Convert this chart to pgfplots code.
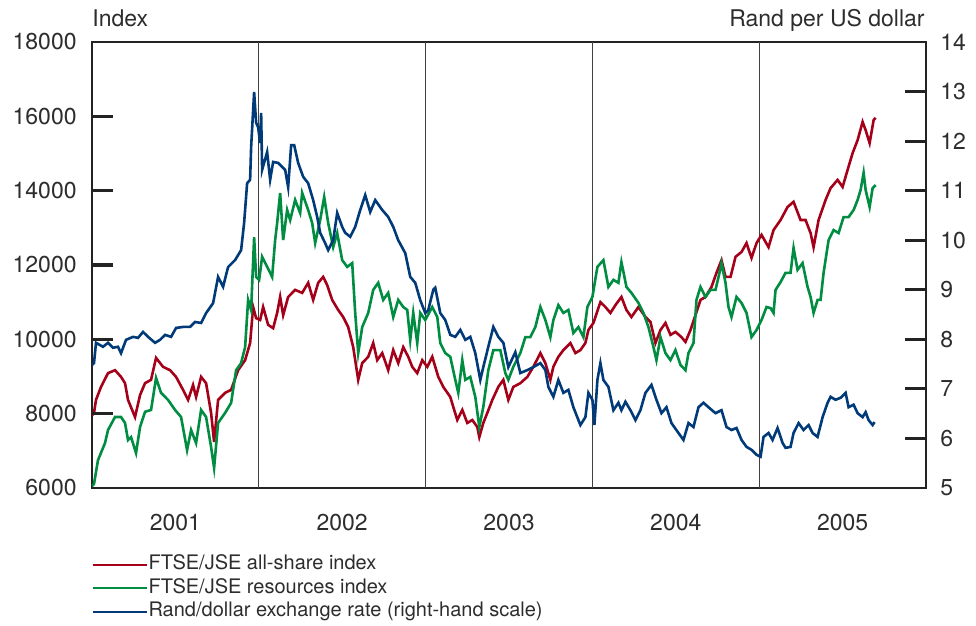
\documentclass[border=0pt]{standalone}
\usepackage{fontspec}
\setmainfont{TeX Gyre Heros}
\usepackage{pgfplots}
\pgfplotsset{compat=1.18}
\usetikzlibrary{calc}

\definecolor{allshare}{RGB}{165,0,25}
\definecolor{resources}{RGB}{0,140,65}
\definecolor{rand}{RGB}{0,58,120}
\definecolor{txt}{RGB}{45,45,45}
\definecolor{axframe}{RGB}{35,35,35}

\pgfplotsset{
  common/.style={
    scale only axis, width=417pt, height=223pt,
    xmin=2001, xmax=2006,
    tick align=inside,
    axis line style={line width=1.3pt, color=axframe},
    every tick/.append style={draw=axframe, line width=1.3pt},
    major tick length=10pt,
    tick label style={font=\fontsize{11.5}{13}\selectfont, text=txt},
    /pgf/number format/assume math mode=true,
    /pgf/number format/1000 sep={},
    scaled y ticks=false,
  },
}

\begin{document}
\begin{tikzpicture}
\begin{axis}[common, name=main,
  ymin=6000, ymax=18000,
  ytick={6000,8000,...,18000}, ytick pos=left,
  yticklabel style={anchor=east, inner sep=0pt, xshift=-7.5pt},
  xtick={2001.5,2002.5,2003.5,2004.5,2005.5},
  xticklabels={2001,2002,2003,2004,2005},
  xtick style={draw=none},
  xticklabel style={anchor=base, inner sep=0pt, yshift=-21.5pt},
  extra x ticks={2002,2003,2004,2005},
  extra x tick labels={},
  extra x tick style={grid=major, major grid style={black!75, line width=0.6pt}},
]
% FTSE/JSE all-share index
\addplot[allshare, line width=1.3pt] coordinates {
(2001.000,7950)(2001.012,8020)(2001.024,8370)(2001.054,8720)(2001.096,9090)(2001.138,9170)(2001.174,8990)(2001.198,8820)
(2001.216,8370)(2001.258,7910)(2001.288,8500)(2001.318,8820)(2001.354,8910)(2001.384,9500)(2001.426,9260)(2001.468,9170)
(2001.504,8990)(2001.546,8640)(2001.576,8370)(2001.606,8770)(2001.624,8450)(2001.654,8990)(2001.684,8820)(2001.714,8020)
(2001.732,7240)(2001.756,8370)(2001.798,8560)(2001.834,8640)(2001.876,9170)(2001.918,9440)(2001.948,9900)(2001.966,10870)
(2001.984,10570)(2002.008,10520)(2002.026,10870)(2002.056,10390)(2002.086,10300)(2002.110,10710)(2002.128,11140)(2002.146,10650)
(2002.176,11140)(2002.218,11330)(2002.260,11250)(2002.296,11520)(2002.326,11060)(2002.356,11520)(2002.386,11680)(2002.410,11460)
(2002.440,11060)(2002.476,10790)(2002.506,10600)(2002.536,10330)(2002.566,9790)(2002.578,9440)(2002.596,8910)(2002.620,9360)
(2002.656,9530)(2002.686,9900)(2002.710,9440)(2002.740,9630)(2002.776,9170)(2002.806,9710)(2002.836,9360)(2002.866,9790)
(2002.896,9530)(2002.920,9260)(2002.950,9090)(2002.980,9440)(2003.010,9260)(2003.040,9530)(2003.076,8990)(2003.106,8720)
(2003.148,8450)(2003.166,8180)(2003.190,7830)(2003.220,8100)(2003.250,7750)(2003.280,7830)(2003.310,7640)(2003.322,7370)
(2003.346,7750)(2003.370,8020)(2003.400,8370)(2003.436,8720)(2003.466,8910)(2003.496,8370)(2003.526,8720)(2003.568,8820)
(2003.610,8990)(2003.646,9260)(2003.688,9630)(2003.718,9360)(2003.748,8910)(2003.766,9260)(2003.796,9530)(2003.826,9710)
(2003.868,9900)(2003.898,9630)(2003.928,9710)(2003.958,9900)(2003.976,10250)(2004.006,10440)(2004.048,11000)(2004.078,10870)
(2004.108,10710)(2004.138,10920)(2004.174,11140)(2004.204,10790)(2004.234,10600)(2004.276,10870)(2004.318,10600)(2004.348,10470)
(2004.378,9900)(2004.408,10250)(2004.438,10440)(2004.468,10120)(2004.498,10200)(2004.534,10060)(2004.558,9930)(2004.588,10250)
(2004.648,11060)(2004.678,11140)(2004.714,11410)(2004.744,11790)(2004.774,12130)(2004.798,11680)(2004.828,11680)(2004.858,12220)
(2004.894,12350)(2004.924,12590)(2004.954,12190)(2004.984,12590)(2005.014,12810)(2005.056,12480)(2005.086,12940)(2005.128,13210)
(2005.170,13560)(2005.206,13700)(2005.248,13210)(2005.278,13210)(2005.308,12860)(2005.326,12480)(2005.356,13210)(2005.398,13750)
(2005.428,14070)(2005.470,14290)(2005.500,14100)(2005.530,14560)(2005.560,15010)(2005.590,15360)(2005.620,15850)(2005.638,15630)
(2005.662,15280)(2005.686,15900)(2005.698,15960)
};
% FTSE/JSE resources index
\addplot[resources, line width=1.3pt] coordinates {
(2001.000,6050)(2001.012,6110)(2001.036,6750)(2001.078,7210)(2001.096,7560)(2001.138,7910)(2001.174,7910)(2001.198,7750)
(2001.216,7290)(2001.234,7370)(2001.264,6940)(2001.288,7640)(2001.318,8050)(2001.354,8100)(2001.384,8960)(2001.414,8560)
(2001.456,8370)(2001.498,8100)(2001.534,7910)(2001.570,7020)(2001.594,7560)(2001.624,7210)(2001.654,8100)(2001.684,7910)
(2001.714,7100)(2001.732,6540)(2001.756,7750)(2001.798,8020)(2001.834,8290)(2001.864,9170)(2001.894,9360)(2001.918,9790)
(2001.936,11060)(2001.954,10790)(2001.972,12750)(2001.984,11680)(2002.002,11600)(2002.020,12220)(2002.050,11950)(2002.080,11680)
(2002.098,12670)(2002.110,13130)(2002.128,13940)(2002.146,12670)(2002.170,13480)(2002.188,13210)(2002.218,13750)(2002.248,13400)
(2002.260,13940)(2002.296,13480)(2002.320,13130)(2002.338,12590)(2002.368,13210)(2002.392,13830)(2002.416,13130)(2002.446,12480)
(2002.470,12860)(2002.500,12130)(2002.530,11950)(2002.560,12050)(2002.578,10710)(2002.596,9630)(2002.620,10330)(2002.656,10710)
(2002.686,11330)(2002.716,11520)(2002.746,11060)(2002.776,11250)(2002.806,10600)(2002.836,11060)(2002.866,10870)(2002.890,10790)
(2002.908,9980)(2002.926,10710)(2002.950,9900)(2002.968,10710)(2002.998,10520)(2003.040,10870)(2003.070,10600)(2003.088,9900)
(2003.118,9630)(2003.148,9530)(2003.178,8910)(2003.196,8560)(2003.220,9440)(2003.238,8910)(2003.268,8990)(2003.298,8450)
(2003.322,7640)(2003.346,8180)(2003.376,9170)(2003.406,9710)(2003.448,9710)(2003.478,9090)(2003.496,8910)(2003.526,9260)
(2003.568,9630)(2003.598,10060)(2003.628,10060)(2003.658,10330)(2003.688,10870)(2003.718,10520)(2003.748,10060)(2003.766,10520)
(2003.796,10920)(2003.826,10710)(2003.856,10790)(2003.886,10170)(2003.916,10330)(2003.946,10060)(2003.970,10870)(2004.000,11140)
(2004.030,11950)(2004.066,12130)(2004.096,11410)(2004.126,11600)(2004.156,11520)(2004.174,12080)(2004.204,11410)(2004.234,11250)
(2004.276,10980)(2004.306,10710)(2004.336,10330)(2004.366,9790)(2004.384,9440)(2004.408,10060)(2004.438,9630)(2004.468,9440)
(2004.498,9710)(2004.528,9310)(2004.558,9170)(2004.576,9630)(2004.606,9900)(2004.624,11060)(2004.648,11410)(2004.678,11140)
(2004.708,11330)(2004.738,11330)(2004.762,11790)(2004.774,12050)(2004.798,11520)(2004.816,10870)(2004.834,10600)(2004.864,11140)
(2004.894,10980)(2004.924,10710)(2004.954,10060)(2004.984,10250)(2005.014,10520)(2005.044,10870)(2005.068,10840)(2005.086,10710)
(2005.098,11330)(2005.128,11540)(2005.158,11790)(2005.188,11790)(2005.206,12460)(2005.230,11870)(2005.260,12050)(2005.290,11410)
(2005.308,11140)(2005.326,10710)(2005.350,11060)(2005.368,11060)(2005.386,11790)(2005.416,12670)(2005.446,12940)(2005.476,12860)
(2005.506,13290)(2005.536,13290)(2005.566,13480)(2005.590,13750)(2005.608,14020)(2005.626,14480)(2005.638,14020)(2005.662,13560)
(2005.680,14070)(2005.698,14150)
};
\coordinate (bl) at (rel axis cs:0,0);
\coordinate (tr) at (rel axis cs:1,1);
\end{axis}

\begin{axis}[common,
  ymin=5, ymax=14,
  ytick={5,6,...,14},
  axis y line*=right, axis x line=none,
  yticklabel style={anchor=west, inner sep=0pt, xshift=7pt},
  legend style={at={(0,0)}, anchor=north west, yshift=-33pt,
    draw=none, fill=none, inner sep=0pt, outer sep=0pt,
    font=\fontsize{10}{12}\selectfont, text=txt,
    nodes={inner sep=0pt, text height=8pt, text depth=3pt},
    row sep=0.75pt},
  legend cell align=left,
  legend image code/.code={\draw[#1] (0pt,0pt) -- (18pt,0pt); \path (0pt,0pt) -- (27pt,0pt);},
]
\addlegendimage{allshare, line width=1pt}
\addlegendentry{FTSE/JSE all-share index}
\addlegendimage{resources, line width=1pt}
\addlegendentry{FTSE/JSE resources index}
% Rand/dollar exchange rate (right-hand scale)
\addplot[rand, line width=1.3pt] coordinates {
(2001.000,7.48)(2001.012,7.52)(2001.024,7.93)(2001.066,7.85)(2001.096,7.93)(2001.126,7.83)(2001.156,7.85)(2001.174,7.72)
(2001.204,7.99)(2001.246,8.05)(2001.276,8.03)(2001.306,8.15)(2001.336,8.05)(2001.378,7.93)(2001.408,7.99)(2001.438,8.09)
(2001.474,8.05)(2001.504,8.23)(2001.546,8.25)(2001.588,8.25)(2001.618,8.35)(2001.654,8.33)(2001.684,8.53)(2001.726,8.73)
(2001.756,9.26)(2001.786,9.06)(2001.816,9.46)(2001.858,9.60)(2001.894,9.80)(2001.912,10.35)(2001.930,11.15)(2001.948,11.22)
(2001.954,11.88)(2001.972,12.99)(2001.984,12.37)(2001.996,12.28)(2002.008,11.96)(2002.014,12.57)(2002.020,11.42)(2002.050,11.78)
(2002.068,11.22)(2002.086,11.58)(2002.116,11.56)(2002.158,11.42)(2002.176,11.07)(2002.194,11.92)(2002.212,11.92)(2002.236,11.56)
(2002.266,11.28)(2002.296,11.15)(2002.326,10.81)(2002.350,10.47)(2002.368,10.15)(2002.398,9.94)(2002.416,9.80)(2002.446,10.00)
(2002.470,10.55)(2002.500,10.27)(2002.518,10.15)(2002.548,10.07)(2002.578,10.27)(2002.608,10.61)(2002.638,10.91)(2002.668,10.57)
(2002.698,10.81)(2002.740,10.61)(2002.776,10.47)(2002.806,10.27)(2002.836,10.00)(2002.878,9.74)(2002.908,9.26)(2002.938,9.14)
(2002.968,8.79)(2002.998,8.53)(2003.016,8.59)(2003.046,9.00)(2003.058,9.04)(2003.088,8.53)(2003.118,8.39)(2003.148,8.09)
(2003.178,8.05)(2003.208,8.19)(2003.238,7.99)(2003.268,8.05)(2003.298,7.72)(2003.328,7.18)(2003.346,7.44)(2003.376,7.85)
(2003.406,8.25)(2003.436,8.05)(2003.466,7.93)(2003.496,7.44)(2003.538,7.74)(2003.568,7.32)(2003.610,7.38)(2003.646,7.44)
(2003.688,7.52)(2003.718,7.38)(2003.736,7.04)(2003.766,6.84)(2003.796,7.18)(2003.826,6.92)(2003.856,6.98)(2003.886,6.63)
(2003.928,6.27)(2003.958,6.43)(2003.976,6.92)(2004.000,6.78)(2004.012,6.27)(2004.030,7.18)(2004.048,7.52)(2004.066,7.18)
(2004.096,7.04)(2004.126,6.57)(2004.156,6.72)(2004.174,6.57)(2004.198,6.74)(2004.228,6.57)(2004.258,6.37)(2004.288,6.57)
(2004.318,6.92)(2004.354,7.08)(2004.384,6.78)(2004.414,6.51)(2004.444,6.63)(2004.474,6.31)(2004.516,6.11)(2004.546,5.97)
(2004.576,6.31)(2004.606,6.23)(2004.636,6.63)(2004.666,6.72)(2004.696,6.63)(2004.738,6.51)(2004.774,6.57)(2004.804,6.23)
(2004.834,6.17)(2004.864,6.21)(2004.894,5.97)(2004.924,5.83)(2004.954,5.77)(2004.984,5.67)(2005.008,5.63)(2005.026,6.03)
(2005.056,6.11)(2005.080,5.97)(2005.110,6.21)(2005.140,5.91)(2005.158,5.81)(2005.188,5.83)(2005.206,6.11)(2005.236,6.31)
(2005.266,6.17)(2005.296,6.27)(2005.320,6.11)(2005.350,6.03)(2005.380,6.43)(2005.410,6.72)(2005.428,6.84)(2005.458,6.78)
(2005.488,6.82)(2005.518,6.92)(2005.536,6.63)(2005.566,6.68)(2005.590,6.51)(2005.620,6.43)(2005.638,6.53)(2005.656,6.37)
(2005.680,6.27)(2005.692,6.33)
};
\addlegendentry{Rand/dollar exchange rate (right-hand scale)}
\end{axis}

% tick marks of both scales, pointing into the plot
\foreach \k in {1,...,5}{
  \coordinate (t) at ($(bl)!\k/6!(bl|-tr)$);
  \fill[axframe] ($(t)+(0pt,-0.8pt)$) rectangle ($(t)+(10.5pt,0.8pt)$);
}
\foreach \k in {1,...,8}{
  \coordinate (t) at ($(bl-|tr)!\k/9!(tr)$);
  \fill[axframe] ($(t)+(0pt,-0.8pt)$) rectangle ($(t)+(-10.5pt,0.8pt)$);
}

\node[anchor=base west, inner sep=0pt, text=txt, font=\fontsize{11.5}{13}\selectfont]
  at ($(bl|-tr)+(0pt,7.5pt)$) {Index};
\node[anchor=base east, inner sep=0pt, text=txt, font=\fontsize{11.5}{13}\selectfont]
  at ($(tr)+(-0.5pt,7.5pt)$) {Rand per US dollar};

\pgfresetboundingbox
\path ($(bl)+(-46pt,-69pt)$) rectangle ($(tr)+(25pt,21pt)$);
\end{tikzpicture}
\end{document}
